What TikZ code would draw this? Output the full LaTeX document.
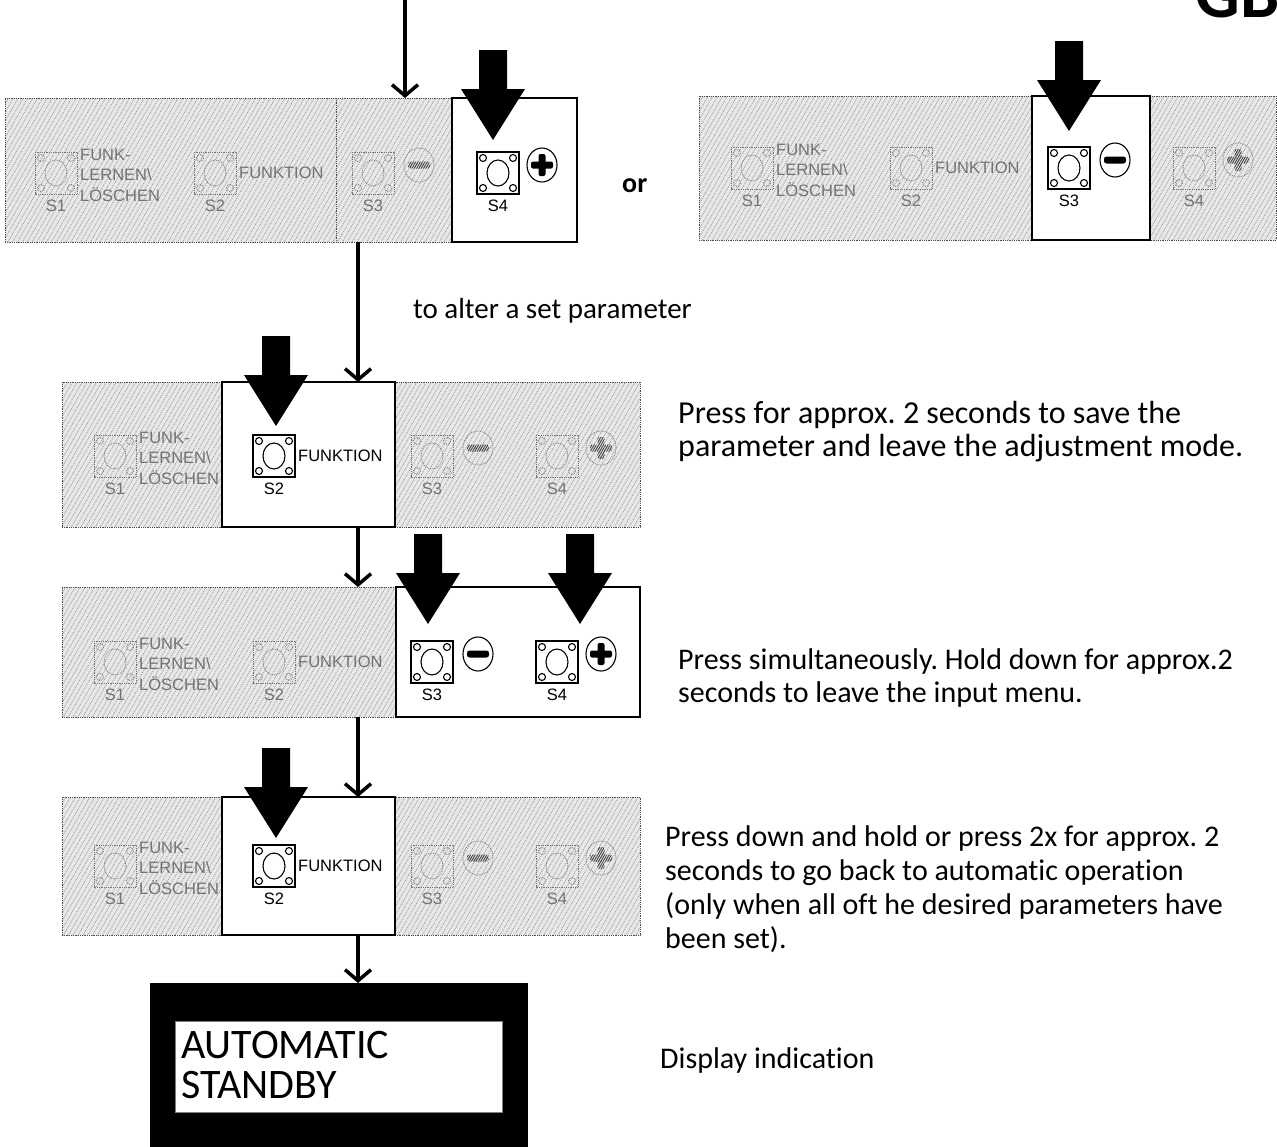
\documentclass[tikz,border=0pt]{standalone}
\usepackage{fontspec}
\setmainfont[Ligatures=NoCommon]{Carlito}
\newfontfamily\arialf{Liberation Sans}
\usetikzlibrary{arrows.meta,patterns.meta}
\frenchspacing

\tikzset{
  hatchbox/.style={draw=black!70, densely dotted, line width=0.8pt, preaction={fill=black!9},
    pattern={Lines[angle=60,distance=4.2pt,line width=0.8pt]}, pattern color=black!38,
    inner sep=0pt, outer sep=0pt},
  whitebox/.style={draw=black, solid, line width=1.3pt, fill=white, inner sep=0pt, outer sep=0pt},
  divider/.style={draw=black!70, densely dotted, line width=0.8pt},
  actbtn/.style={draw=black, line width=1.1pt, solid},
  inabtn/.style={draw=black!55, line width=0.8pt, densely dotted},
  actlbl/.style={font=\arialf\fontsize{16.5}{20}\selectfont, text=black, inner sep=0pt},
  inalbl/.style={font=\arialf\fontsize{16.5}{20}\selectfont, text=black!55, inner sep=0pt},
  actbar/.style={fill=black},
  inabar/.style={pattern={Lines[angle=60,distance=2pt,line width=0.9pt]}, pattern color=black!75},
  conn/.style={line width=4pt, -{Straight Barb[length=11pt,width=26pt,line width=3.5pt]}},
  txt/.style={font=\fontsize{30}{33}\selectfont, anchor=base west, inner sep=0pt},
  bigtxt/.style={font=\fontsize{32}{33}\selectfont, anchor=base west, inner sep=0pt},
  pics/btn/.style={code={
    \draw[#1] (-21,-21) rectangle (21,21);
    \draw[#1] (0,0) ellipse[x radius=11, y radius=13];
    \foreach \a/\b in {-15/-15,15/-15,-15/15,15/15} \draw[#1] (\a,\b) circle[radius=3.5];
  }},
  pics/minus/.style={code={
    \draw[#1btn] (0,0) ellipse[x radius=15, y radius=17];
    \path[#1bar, rounded corners=2.5pt] (-11,-3.5) rectangle (11,3.5);
  }},
  pics/plus/.style={code={
    \draw[#1btn] (0,0) ellipse[x radius=15, y radius=17];
    \path[#1bar, rounded corners=2pt] (-11,-3.5) rectangle (11,3.5) (-3.5,-11) rectangle (3.5,11);
  }},
  pics/press/.style={code={
    \fill[black] (-14,-90) -- (14,-90) -- (14,-51) -- (32,-51) -- (0,0) -- (-32,-51) -- (-14,-51) -- cycle;
  }},
}

% #1 name, #2 origin x, #3 button centre y, #4..#7 states of S1..S4 (act/ina)
\newcommand\mkbuttons[7]{%
  \pic at (#2+53,#3) {btn=#4btn};
  \node[#4lbl] (#1l1) at (#2+53,#3+33) {S1};
  \node[#4lbl, anchor=west] (#1fa) at (#2+77,#3-18) {FUNK-};
  \node[#4lbl, anchor=west] (#1fb) at (#2+77,#3+2) {LERNEN\textbackslash};
  \node[#4lbl, anchor=west] (#1fc) at (#2+77,#3+22) {LÖSCHEN};
  \pic at (#2+212,#3) {btn=#5btn};
  \node[#5lbl] (#1l2) at (#2+212,#3+33) {S2};
  \node[#5lbl, anchor=west] (#1fn) at (#2+236,#3) {FUNKTION};
  \pic at (#2+370,#3) {btn=#6btn};
  \node[#6lbl] (#1l3) at (#2+370,#3+33) {S3};
  \pic at (#2+416,#3-8) {minus=#6};
  \pic at (#2+495,#3) {btn=#7btn};
  \node[#7lbl] (#1l4) at (#2+495,#3+33) {S4};
  \pic at (#2+539,#3-8) {plus=#7};
}

\begin{document}
\begin{tikzpicture}[x=1pt,y=-1pt]
\useasboundingbox (0,0) rectangle (1277,1146);

% ---- GB
\node[anchor=base east, font=\bfseries\fontsize{70}{70}\selectfont, inner sep=0pt] (gb) at (1280,17) {GB};

% ---- panel 1 (S4 pressed)
\node[hatchbox, anchor=north west, minimum width=572pt, minimum height=144pt] (P1) at (5,98) {};
\draw[divider] (336,98) -- (336,242);
\node[whitebox, anchor=north west, minimum width=125pt, minimum height=144pt] (P1w) at (452,98) {};
\mkbuttons{pa}{3}{173}{ina}{ina}{ina}{act}
\pic at (493,140) {press};

% ---- or
\node[anchor=base west, font=\bfseries\fontsize{28}{30}\selectfont, inner sep=0pt] (or) at (622,192) {or};

% ---- panel 2 (S3 pressed)
\node[hatchbox, anchor=north west, minimum width=577pt, minimum height=144pt] (P2) at (699,96) {};
\node[whitebox, anchor=north west, minimum width=118pt, minimum height=144pt] (P2w) at (1032,96) {};
\mkbuttons{pb}{699}{168}{ina}{ina}{act}{ina}
\pic at (1069,131) {press};

% ---- panel 3 (S2 pressed)
\node[hatchbox, anchor=north west, minimum width=578pt, minimum height=145pt] (P3) at (62,382) {};
\node[whitebox, anchor=north west, minimum width=173pt, minimum height=145pt] (P3w) at (222,382) {};
\mkbuttons{pc}{62}{456}{ina}{act}{ina}{ina}
\pic at (276,426) {press};

% ---- panel 4 (S3 + S4 pressed)
\node[hatchbox, anchor=north west, minimum width=578pt, minimum height=130pt] (P4) at (62,587) {};
\node[whitebox, anchor=north west, minimum width=244pt, minimum height=130pt] (P4w) at (396,587) {};
\mkbuttons{pd}{62}{662}{ina}{ina}{act}{act}
\pic at (428,624) {press};
\pic at (580,624) {press};

% ---- panel 5 (S2 pressed)
\node[hatchbox, anchor=north west, minimum width=578pt, minimum height=138pt] (P5) at (62,797) {};
\node[whitebox, anchor=north west, minimum width=173pt, minimum height=138pt] (P5w) at (222,797) {};
\mkbuttons{pe}{62}{866}{ina}{act}{ina}{ina}
\pic at (276,838) {press};

% ---- display
\node[fill=black, anchor=north west, minimum width=378pt, minimum height=175pt, inner sep=0pt] (disp) at (150,983) {};
\node[fill=white, draw=black!50, line width=0.8pt, anchor=north west, minimum width=327pt, minimum height=91pt, inner sep=0pt] (scr) at (175,1021) {};
\node[anchor=base west, font=\fontsize{42}{42}\selectfont, inner sep=0pt] (dl1) at (181,1058) {AUTOMATIC};
\node[anchor=base west, font=\fontsize{42}{42}\selectfont, inner sep=0pt] (dl2) at (181,1098) {STANDBY};

% ---- connectors
\coordinate (topin) at (405,-6);
\coordinate (cx) at (358,0);
\draw[conn] (topin) -- (topin |- P1.north);
\draw[conn] (P1.south -| cx) -- (P3.north -| cx);
\draw[conn] (P3.south -| cx) -- (P4.north -| cx);
\draw[conn] (P4.south -| cx) -- (P5.north -| cx);
\draw[conn] (P5.south -| cx) -- (disp.north -| cx);

% ---- texts
\node[txt, font=\fontsize{29}{33}\selectfont] (alter) at (413,318) {to alter a set parameter};
\node[bigtxt] (t3a) at (678,423) {Press for approx. 2 seconds to save the};
\node[bigtxt] (t3b) at (678,456) {parameter and leave the adjustment mode.};
\node[txt] (t4a) at (678,669) {Press simultaneously. Hold down for approx.2};
\node[txt] (t4b) at (678,702) {seconds to leave the input menu.};
\node[txt] (t5a) at (665,846) {Press down and hold or press 2x for approx. 2};
\node[txt] (t5b) at (665,880) {seconds to go back to automatic operation};
\node[txt] (t5c) at (665,914) {(only when all oft he desired parameters have};
\node[txt] (t5d) at (665,948) {been set).};
\node[txt] (tdisp) at (660,1068) {Display indication};
\end{tikzpicture}
\end{document}
